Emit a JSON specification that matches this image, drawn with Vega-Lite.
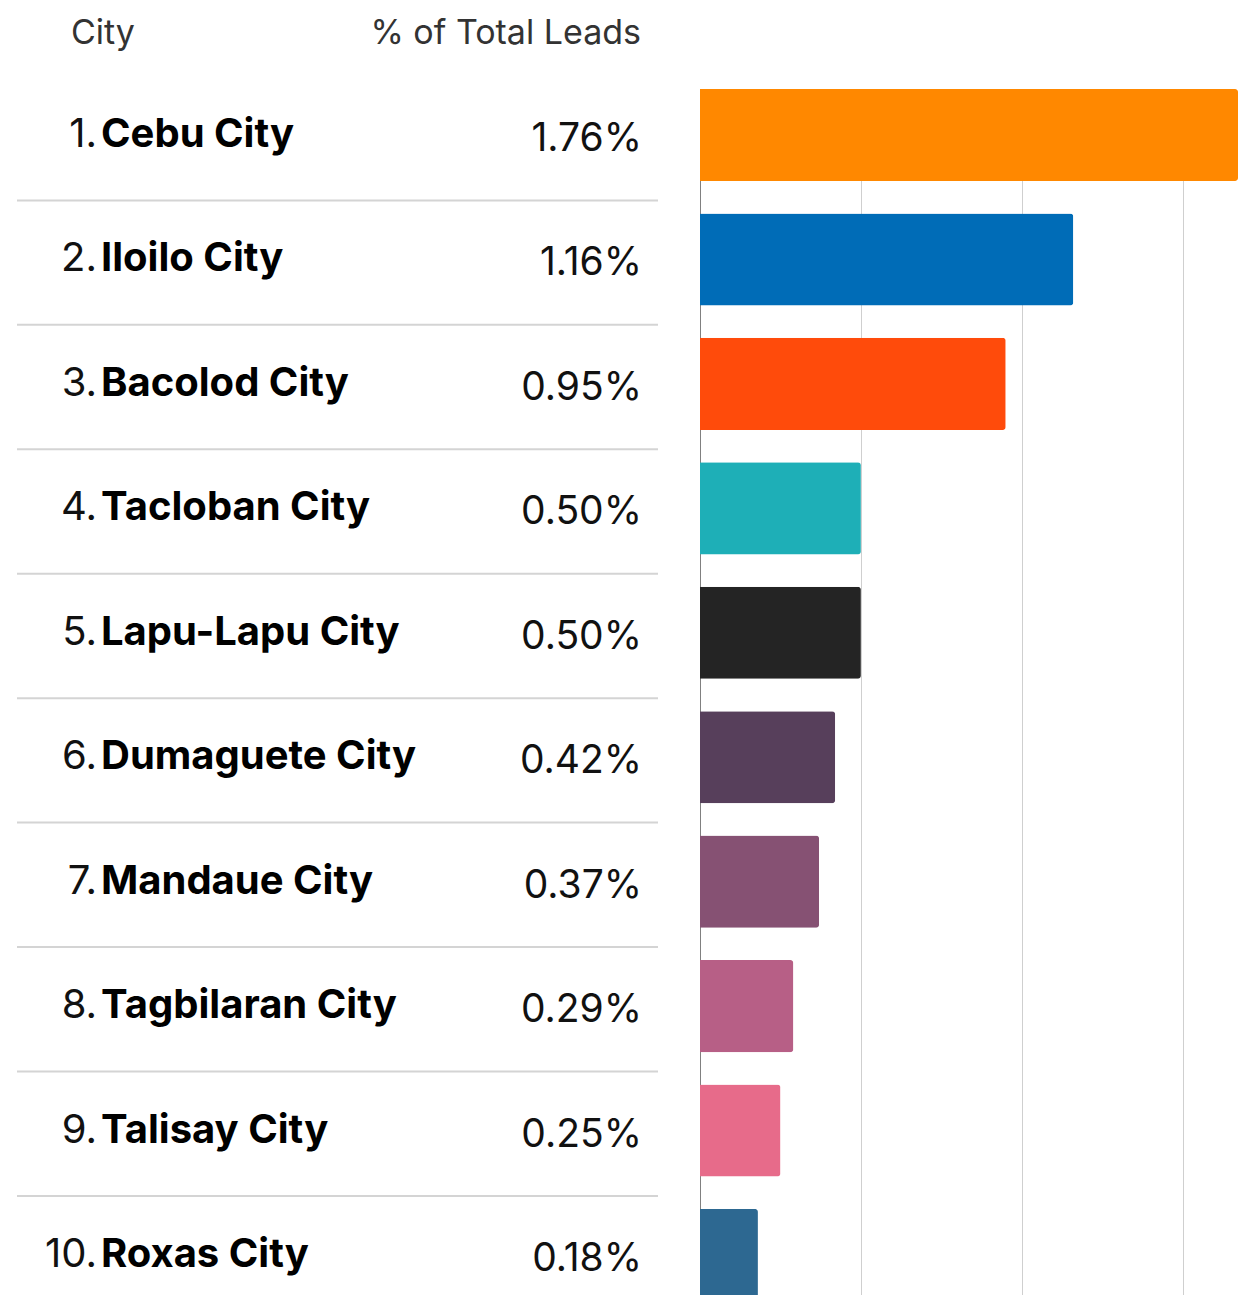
{
  "$schema": "https://vega.github.io/schema/vega-lite/v6.json",
  "padding": 0,
  "bounds": "flush",
  "spacing": 0,
  "background": "white",
  "data": {
    "values": [
      {"rank": 1, "city": "Cebu City", "pct": 0.0176},
      {"rank": 2, "city": "Iloilo City", "pct": 0.0116},
      {"rank": 3, "city": "Bacolod City", "pct": 0.0095},
      {"rank": 4, "city": "Tacloban City", "pct": 0.0050},
      {"rank": 5, "city": "Lapu-Lapu City", "pct": 0.0050},
      {"rank": 6, "city": "Dumaguete City", "pct": 0.0042},
      {"rank": 7, "city": "Mandaue City", "pct": 0.0037},
      {"rank": 8, "city": "Tagbilaran City", "pct": 0.0029},
      {"rank": 9, "city": "Talisay City", "pct": 0.0025},
      {"rank": 10, "city": "Roxas City", "pct": 0.0018}
    ]
  },
  "vconcat": [
    {
      "width": 660,
      "height": 89,
      "data": {"values": [{"h": 1}]},
      "layer": [
        {
          "mark": {"type": "text", "text": "City", "align": "left", "baseline": "alphabetic", "font": "Inter", "fontSize": 34, "color": "#333333"},
          "encoding": {"x": {"value": 71}, "y": {"value": 44}}
        },
        {
          "mark": {"type": "text", "text": "% of Total Leads", "align": "right", "baseline": "alphabetic", "font": "Inter", "fontSize": 34, "color": "#333333"},
          "encoding": {"x": {"value": 641}, "y": {"value": 44}}
        }
      ]
    },
    {
      "bounds": "flush",
      "spacing": 40,
      "hconcat": [
        {
          "width": 660,
          "height": 1212,
          "layer": [
            {
              "transform": [{"filter": "datum.rank > 1"}],
              "mark": {"type": "rule", "color": "#d4d4d4", "strokeWidth": 2, "yOffset": -13},
              "encoding": {
                "y": {"field": "rank", "type": "ordinal", "bandPosition": 0},
                "x": {"value": 17},
                "x2": {"value": 658}
              }
            },
            {
              "mark": {"type": "text", "align": "right", "baseline": "alphabetic", "dy": 12, "font": "Inter", "fontSize": 40, "color": "#111111"},
              "encoding": {
                "y": {"field": "rank", "type": "ordinal"},
                "x": {"value": 97},
                "text": {"field": "rank", "type": "quantitative", "format": "$d"}
              }
            },
            {
              "mark": {"type": "text", "align": "left", "baseline": "alphabetic", "dy": 12, "font": "Inter", "fontSize": 40, "fontWeight": "bold", "color": "#000000"},
              "encoding": {
                "y": {"field": "rank", "type": "ordinal"},
                "x": {"value": 101},
                "text": {"field": "city", "type": "nominal"}
              }
            },
            {
              "mark": {"type": "text", "align": "right", "baseline": "alphabetic", "dy": 16, "font": "Inter", "fontSize": 39, "color": "#111111"},
              "encoding": {
                "y": {"field": "rank", "type": "ordinal"},
                "x": {"value": 642},
                "text": {"field": "pct", "type": "quantitative", "format": ".2%"}
              }
            }
          ],
          "encoding": {
            "y": {"field": "rank", "type": "ordinal", "scale": {"paddingInner": 0.26, "paddingOuter": 0}, "axis": null}
          }
        },
        {
          "width": 538,
          "height": 1212,
          "mark": {"type": "bar", "cornerRadiusEnd": 3},
          "encoding": {
            "y": {
              "field": "rank", "type": "ordinal",
              "scale": {"paddingInner": 0.26, "paddingOuter": 0},
              "axis": {"labels": false, "ticks": false, "title": null, "grid": false, "domainColor": "#808080", "domainWidth": 1}
            },
            "x": {
              "field": "pct", "type": "quantitative",
              "scale": {"domain": [0, 0.01672], "nice": false, "zero": true, "clamp": true},
              "axis": {"values": [0, 0.005, 0.01, 0.015], "labels": false, "ticks": false, "domain": false, "title": null, "grid": true, "gridColor": "#cfcfcf", "gridWidth": 1}
            },
            "color": {
              "field": "city", "type": "nominal", "legend": null,
              "scale": {
                "domain": ["Cebu City", "Iloilo City", "Bacolod City", "Tacloban City", "Lapu-Lapu City", "Dumaguete City", "Mandaue City", "Tagbilaran City", "Talisay City", "Roxas City"],
                "range": ["#FF8800", "#006CB7", "#FF4B0B", "#1EAFB7", "#242424", "#573F5B", "#865173", "#B75F86", "#E76B8A", "#2D6891"]
              }
            }
          }
        }
      ]
    }
  ],
  "config": {
    "view": {"stroke": null},
    "locale": {
      "number": {"decimal": ".", "thousands": ",", "grouping": [3], "currency": ["", "."]}
    }
  }
}
